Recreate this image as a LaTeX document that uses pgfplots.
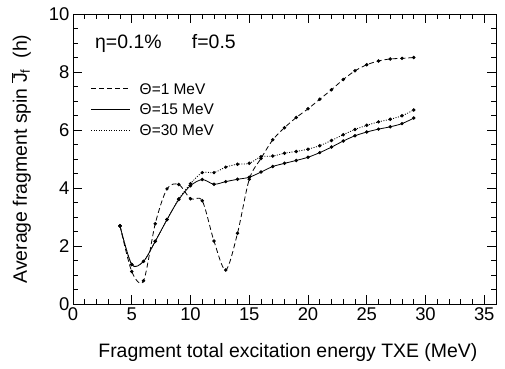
\documentclass[border=0pt]{standalone}
\usepackage{pgfplots}
\pgfplotsset{compat=1.18}
\usepackage{fontspec}
\setmainfont{Liberation Sans}
\begin{document}
\begin{tikzpicture}
\begin{axis}[
  at={(0,0)}, anchor=south west,
  scale only axis, width=423bp, height=290bp,
  xmin=0, xmax=36, ymin=0, ymax=10,
  xtick={0,5,...,35}, ytick={0,2,...,10},
  minor x tick num=4, minor y tick num=3,
  tick align=inside,
  major tick length=9bp, minor tick length=5bp,
  axis line style={line width=0.8bp},
  every tick/.style={black, line width=0.6bp},
  /pgf/number format/assume math mode=true,
  ticklabel style={font=\fontsize{18.5}{21}\selectfont},
  xlabel={Fragment total excitation energy TXE (MeV)},
  ylabel={Average fragment spin $\overline{\mbox{J}}_{\mbox{\fontsize{13}{15}\selectfont f}}$ \ (h)},
  every axis x label/.style={at={(axis description cs:0.508,-0.183)}, anchor=base, font=\fontsize{19.5}{23}\selectfont},
  every axis y label/.style={at={(axis description cs:-0.109,0.5)}, anchor=base, rotate=90, font=\fontsize{19.5}{23}\selectfont},
  legend cell align=left,
  legend style={draw=none, fill=none, font=\fontsize{15.5}{18}\selectfont,
    at={(axis cs:1.51,7.62)}, anchor=north west, row sep=9.7bp, inner sep=0pt,
    nodes={inner sep=0pt, text height=11bp, text depth=0bp}},
  legend image code/.code={\draw[#1] (0bp,0bp) -- (39bp,0bp);},
  every axis plot/.append style={black, line width=0.8bp, mark=*, mark size=1.3bp, smooth, tension=0.5,
     mark options={solid}},
]
\addplot[dash pattern=on 5bp off 3bp] coordinates {
(4,2.70) (5,1.12) (6,0.80) (7,2.77) (8,3.97) (9,4.12) (10,3.63) (11,3.56)
(12,2.17) (13,1.17) (14,2.44) (15,4.30) (16,5.02) (17,5.66) (18,6.08) (19,6.43)
(20,6.73) (21,7.06) (22,7.39) (23,7.74) (24,8.04) (25,8.25) (26,8.38) (27,8.45)
(28,8.47) (29,8.50)};
\addlegendentry{\hspace{9bp}Θ=1 MeV}
\addplot[solid] coordinates {
(4,2.69) (5,1.36) (6,1.47) (7,2.16) (8,2.91) (9,3.60) (10,4.08) (11,4.29)
(12,4.13) (13,4.22) (14,4.30) (15,4.37) (16,4.55) (17,4.74) (18,4.85) (19,4.95)
(20,5.06) (21,5.22) (22,5.41) (23,5.62) (24,5.80) (25,5.93) (26,6.03) (27,6.11)
(28,6.22) (29,6.41)};
\addlegendentry{\hspace{9bp}Θ=15 MeV}
\addplot[dash pattern=on 1bp off 1.5bp] coordinates {
(4,2.69) (5,1.36) (6,1.47) (7,2.16) (8,2.91) (9,3.62) (10,4.15) (11,4.53)
(12,4.53) (13,4.72) (14,4.82) (15,4.85) (16,5.08) (17,5.10) (18,5.20) (19,5.26)
(20,5.34) (21,5.46) (22,5.64) (23,5.84) (24,6.02) (25,6.16) (26,6.28) (27,6.37)
(28,6.49) (29,6.69)};
\addlegendentry{\hspace{9bp}Θ=30 MeV}
\node[anchor=base west, inner sep=0pt, font=\fontsize{19.5}{23}\selectfont] at (axis cs:1.87,8.82) {η=0.1\%};
\node[anchor=base west, inner sep=0pt, font=\fontsize{19.5}{23}\selectfont] at (axis cs:10.11,8.82) {f=0.5};
\end{axis}
\pgfresetboundingbox
\path[use as bounding box] (-73bp,-65bp) rectangle (432bp,304bp);
\end{tikzpicture}
\end{document}
